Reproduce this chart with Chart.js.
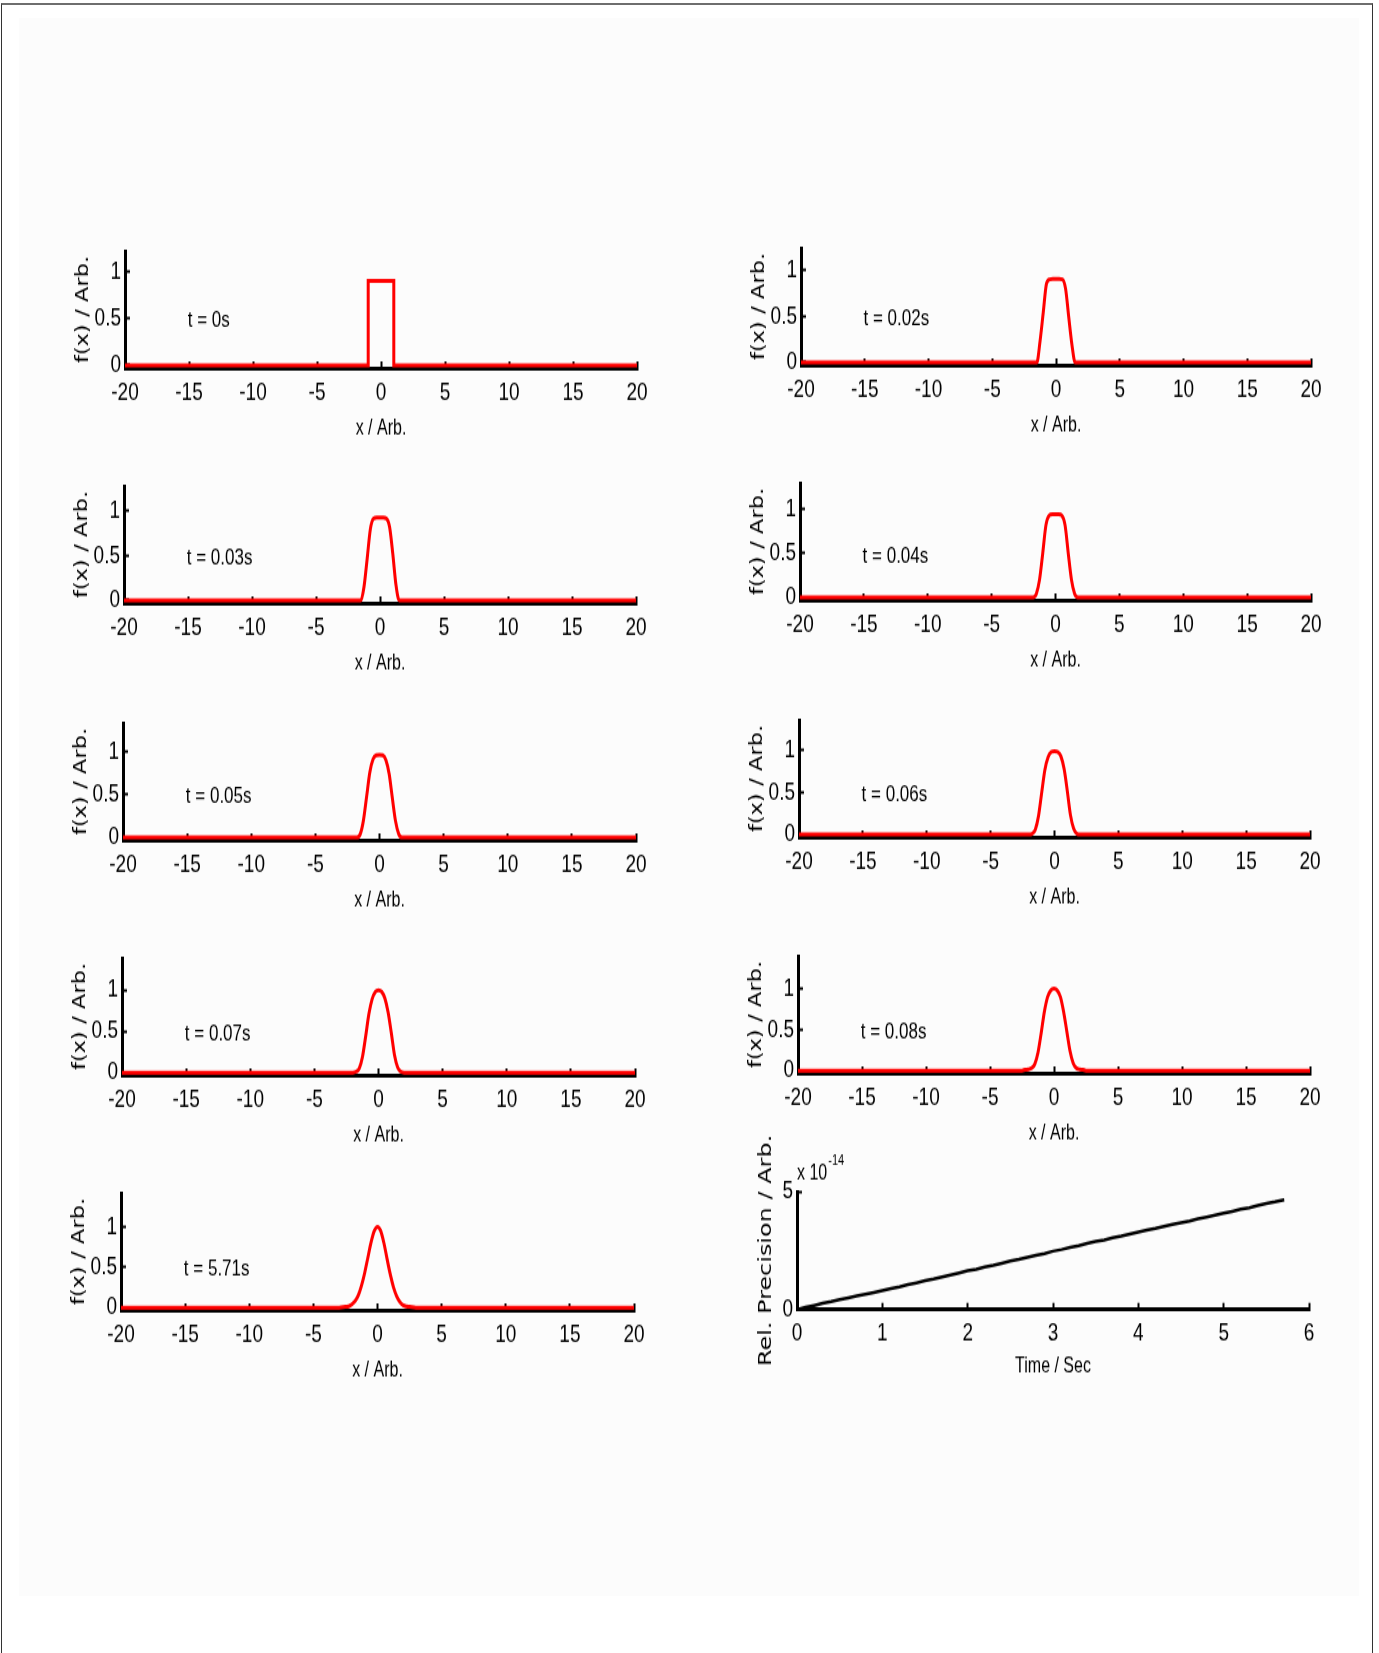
<!DOCTYPE html>
<html><head><meta charset="utf-8">
<script src="https://cdn.jsdelivr.net/npm/chart.js@4.4.1/dist/chart.umd.min.js"></script>
<style>
html,body{margin:0;padding:0;background:#fff;}
#page{position:relative;width:1379px;height:1653px;overflow:hidden;background:#fff;}
#frame{position:absolute;left:1px;top:3px;width:1372px;height:1700px;border-top:2px solid #6e6e6e;border-left:1px solid #333;border-right:1px solid #333;box-sizing:border-box;}
#inner{position:absolute;left:19px;top:18px;width:1340px;height:1578px;background:#fcfcfc;}
canvas{position:absolute;transform-origin:0 0;}
</style></head><body><div id="page"><div id="frame"></div><div id="inner"></div></div>
<script>
// ---------- data ----------
const xGrid = [-20,-3,-2.5,-2.25,-2,-1.75,-1.5,-1.25,-1,-0.75,-0.5,-0.25,0,0.25,0.5,0.75,1,1.25,1.5,1.75,2,2.25,2.5,3,20];
const xStep = [-20,-1,-1,1,1,20];
const f_t0   = [0,0,0.9,0.9,0,0];
const f_t002 = [0,0,0,0,0,0,0,0.23,0.54,0.85,0.9,0.905,0.905,0.905,0.9,0.8,0.49,0.19,0,0,0,0,0,0,0];
const f_t003 = [0,0,0,0,0,0,0,0.15,0.47,0.8,0.915,0.925,0.925,0.925,0.915,0.82,0.52,0.17,0,0,0,0,0,0,0];
const f_t004 = [0,0,0,0,0,0,0.04,0.2,0.5,0.82,0.93,0.945,0.945,0.945,0.93,0.82,0.5,0.2,0.04,0,0,0,0,0,0];
const f_t005 = [0,0,0,0,0,0,0.04,0.2,0.48,0.76,0.91,0.955,0.96,0.955,0.9,0.74,0.46,0.19,0.04,0,0,0,0,0,0];
const f_t006 = [0,0,0,0,0,0.01,0.06,0.22,0.5,0.77,0.92,0.98,0.99,0.98,0.93,0.78,0.52,0.23,0.07,0.01,0,0,0,0,0];
const f_t007 = [0,0,0,0,0,0.01,0.05,0.19,0.44,0.71,0.89,0.98,1.0,0.98,0.9,0.73,0.48,0.21,0.06,0.01,0,0,0,0,0];
const f_t008 = [0,0,0,0.01,0.015,0.03,0.08,0.22,0.46,0.72,0.9,0.98,1.0,0.98,0.9,0.72,0.48,0.24,0.09,0.03,0.015,0.01,0,0,0];
const f_t571 = [0,0,0.01,0.015,0.04,0.08,0.15,0.27,0.43,0.62,0.81,0.95,1.0,0.95,0.8,0.6,0.41,0.25,0.14,0.07,0.03,0.015,0.01,0,0];
const timeLabels = ['t = 0s','t = 0.02s','t = 0.03s','t = 0.04s','t = 0.05s','t = 0.06s','t = 0.07s','t = 0.08s','t = 5.71s'];
const yTicksFx = [0, 0.5, 1];
const yTicksPrec = [0, 5];
const precTime = [0,0.1,0.2,0.3,0.4,0.5,0.6,0.7,0.8,0.9,1.0,1.1,1.2,1.3,1.4,1.5,1.6,1.7,1.8,1.9,2.0,2.1,2.2,2.3,2.4,2.5,2.6,2.7,2.8,2.9,3.0,3.1,3.2,3.3,3.4,3.5,3.6,3.7,3.8,3.9,4.0,4.1,4.2,4.3,4.4,4.5,4.6,4.7,4.8,4.9,5.0,5.1,5.2,5.3,5.4,5.5,5.6,5.71];
const precValue = [0,0.09,0.17,0.26,0.33,0.42,0.49,0.57,0.65,0.72,0.80,0.89,0.96,1.05,1.13,1.22,1.29,1.38,1.46,1.55,1.65,1.70,1.80,1.87,1.96,2.05,2.12,2.21,2.29,2.37,2.47,2.54,2.63,2.70,2.80,2.88,2.94,3.04,3.11,3.20,3.28,3.36,3.43,3.52,3.60,3.68,3.75,3.84,3.92,4.00,4.08,4.16,4.25,4.31,4.41,4.49,4.56,4.65];

// ---------- layout ----------
const SY = 1.33;            // vertical stretch of the original figure
const FONT = '"Liberation Sans", Arial, sans-serif';
const TFONT = '"DejaVu Sans", sans-serif';
const fxPanels = [
  {text: timeLabels[0], xs: xStep, ys: f_t0,   step: true, yMax: 1.22, axisX: 125, rightX: 637, bottom: 368},
  {text: timeLabels[1], xs: xGrid, ys: f_t002, yMax: 1.24, axisX: 801, rightX: 1311, bottom: 365},
  {text: timeLabels[2], xs: xGrid, ys: f_t003, yMax: 1.28, axisX: 124, rightX: 636, bottom: 603},
  {text: timeLabels[3], xs: xGrid, ys: f_t004, yMax: 1.30, axisX: 800, rightX: 1311, bottom: 600},
  {text: timeLabels[4], xs: xGrid, ys: f_t005, yMax: 1.33, axisX: 123, rightX: 636, bottom: 840},
  {text: timeLabels[5], xs: xGrid, ys: f_t006, yMax: 1.36, axisX: 799, rightX: 1310, bottom: 837},
  {text: timeLabels[6], xs: xGrid, ys: f_t007, yMax: 1.39, axisX: 122, rightX: 635, bottom: 1075},
  {text: timeLabels[7], xs: xGrid, ys: f_t008, yMax: 1.40, axisX: 798, rightX: 1310, bottom: 1073},
  {text: timeLabels[8], xs: xGrid, ys: f_t571, yMax: 1.42, axisX: 121, rightX: 634, bottom: 1310}
];
const page = document.getElementById('page');

function makeCanvas(left, top, w, h) {
  const c = document.createElement('canvas');
  c.width = w; c.height = h;
  c.style.width = w + 'px'; c.style.height = h + 'px';
  c.style.left = left + 'px'; c.style.top = top + 'px';
  c.style.transform = 'scaleY(' + SY + ')';
  page.appendChild(c);
  return c;
}

const axisCommon = (extra) => Object.assign({
  grid: {display: true, drawOnChartArea: false, drawTicks: true, tickLength: -5, tickWidth: 2, tickColor: '#000'},
  border: {display: true, color: '#000', width: 3}
}, extra);

const tLabelPlugin = {
  id: 'tlabel',
  afterDatasetsDraw(chart, args, opts) {
    if (!opts || !opts.text) return;
    const {ctx, scales: {x, y}} = chart;
    ctx.save();
    ctx.font = '17px ' + FONT;
    ctx.fillStyle = '#000';
    ctx.textAlign = 'left';
    ctx.textBaseline = 'middle';
    ctx.fillText(opts.text, x.getPixelForValue(opts.x), y.getPixelForValue(opts.y));
    ctx.restore();
  }
};

const expPlugin = {
  id: 'explabel',
  afterDraw(chart, args, opts) {
    if (!opts || !opts.base) return;
    const {ctx, chartArea} = chart;
    ctx.save();
    ctx.fillStyle = '#000';
    ctx.textAlign = 'left';
    ctx.textBaseline = 'alphabetic';
    ctx.font = '16px ' + FONT;
    const bx = chartArea.left;
    const by = chartArea.top - 9;
    ctx.fillText(opts.base, bx, by);
    const bw = ctx.measureText(opts.base).width;
    ctx.font = '11px ' + FONT;
    ctx.fillText(opts.exp, bx + bw + 1, by - 11);
    ctx.restore();
  }
};

function fxChart(p) {
  const PAD_T = 12, CH = 88, XH = 55, YW = 52, PAD_R = 22;
  const w = YW + (p.rightX - p.axisX) + PAD_R;
  const h = PAD_T + CH + XH;
  const c = makeCanvas(p.axisX - YW, p.bottom - (PAD_T + CH) * SY, w, h);
  new Chart(c, {
    type: 'scatter',
    data: {datasets: [{
      data: p.xs.map((x, i) => ({x: x, y: p.ys[i]})),
      showLine: true, borderColor: '#ff0000', borderWidth: 3, pointRadius: 0,
      tension: 0, cubicInterpolationMode: p.step ? 'default' : 'monotone'
    }]},
    options: {
      responsive: false, animation: false, devicePixelRatio: 1,
      layout: {padding: {top: PAD_T, right: PAD_R, left: 0, bottom: 0}},
      plugins: {legend: {display: false}, tooltip: {enabled: false},
        tlabel: {text: p.text, x: -15.1, y: 0.47}},
      scales: {
        x: axisCommon({
          type: 'linear', position: 'bottom', min: -20, max: 20,
          ticks: {stepSize: 5, padding: 12, color: '#000', font: {family: FONT, size: 19}, maxRotation: 0, callback: v => String(v)},
          title: {display: true, text: 'x / Arb.', color: '#000', font: {family: FONT, size: 16}, padding: 0},
          afterFit: s => { s.height = XH; s.paddingLeft = 0; s.paddingRight = 0; }
        }),
        y: axisCommon({
          type: 'linear', position: 'left', min: -0.03, max: p.yMax,
          afterBuildTicks: s => { s.ticks = yTicksFx.map(v => ({value: v})); },
          ticks: {padding: 9, color: '#000', font: {family: FONT, size: 19}, callback: v => String(v)},
          title: {display: true, text: 'f(x) / Arb.', color: '#000', font: {family: TFONT, size: 17}, padding: 0},
          afterFit: s => { s.width = YW; s.paddingTop = 0; s.paddingBottom = 0; }
        })
      }
    },
    plugins: [tLabelPlugin]
  });
}

fxPanels.forEach(fxChart);

// precision panel
(function () {
  const P = {axisX: 797, rightX: 1309, bottom: 1309};
  const PAD_T = 56, CH = 88.7, XH = 52, YW = 41, PAD_R = 22;
  const w = YW + (P.rightX - P.axisX) + PAD_R;
  const h = Math.round(PAD_T + CH + XH);
  const c = makeCanvas(P.axisX - YW, P.bottom - (PAD_T + CH) * SY, w, h);
  new Chart(c, {
    type: 'scatter',
    data: {datasets: [{
      data: precTime.map((t, i) => ({x: t, y: precValue[i]})),
      showLine: true, borderColor: '#000', borderWidth: 2.5, pointRadius: 0, tension: 0
    }]},
    options: {
      responsive: false, animation: false, devicePixelRatio: 1,
      layout: {padding: {top: PAD_T, right: PAD_R, left: 0, bottom: h - PAD_T - CH - XH}},
      plugins: {legend: {display: false}, tooltip: {enabled: false},
        explabel: {base: 'x 10', exp: '-14'}},
      scales: {
        x: axisCommon({
          type: 'linear', position: 'bottom', min: 0, max: 6,
          ticks: {stepSize: 1, padding: 12, color: '#000', font: {family: FONT, size: 19}, maxRotation: 0, callback: v => String(v)},
          title: {display: true, text: 'Time / Sec', color: '#000', font: {family: FONT, size: 16}, padding: 0},
          afterFit: s => { s.height = XH; s.paddingLeft = 0; s.paddingRight = 0; }
        }),
        y: axisCommon({
          type: 'linear', position: 'left', min: 0, max: 5,
          afterBuildTicks: s => { s.ticks = yTicksPrec.map(v => ({value: v})); },
          ticks: {padding: 9, color: '#000', font: {family: FONT, size: 19}, callback: v => String(v)},
          title: {display: true, text: 'Rel. Precision / Arb.', color: '#000', font: {family: TFONT, size: 18}, padding: 0},
          afterFit: s => { s.width = YW; s.paddingTop = 0; s.paddingBottom = 0; }
        })
      }
    },
    plugins: [expPlugin]
  });
})();
</script></body></html>
